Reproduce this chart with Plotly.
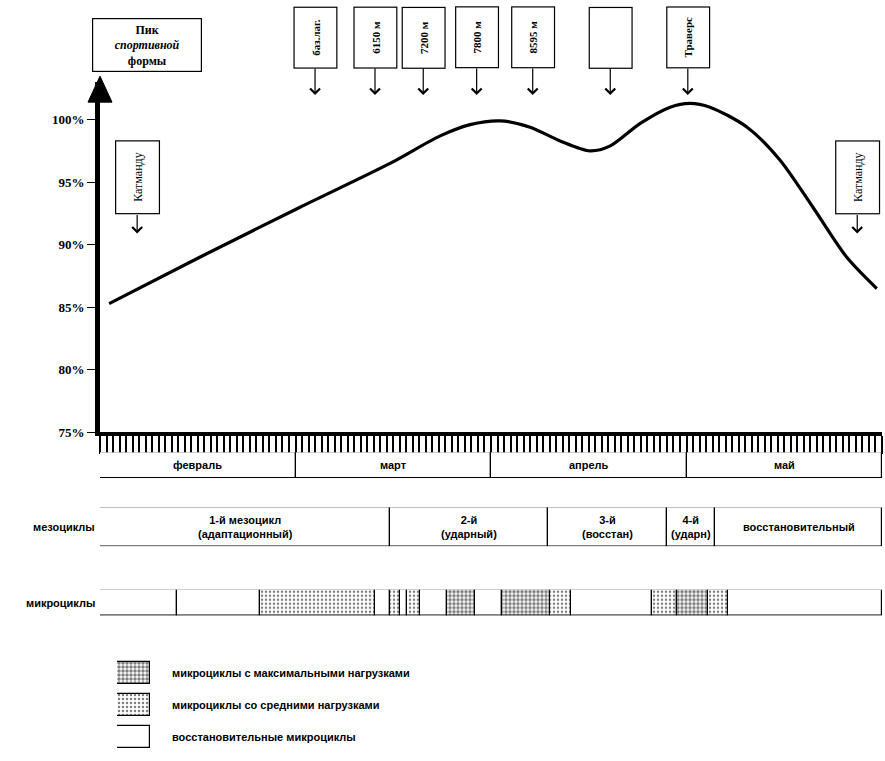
import plotly.graph_objects as go

W, H = 885, 761

# ---------------- data ----------------
# performance curve: day of the season (Feb..May, 30 units per month) vs % of peak form
curve_days = [1.4, 15.3, 30.7, 44.5, 52.2, 56.8, 61.4, 66.0, 70.6, 75.2, 78.3, 82.9,
              87.5, 90.5, 93.6, 99.3, 104.3, 109.4, 114.6, 119.2]
curve_pct = [85.3, 89.0, 93.0, 96.5, 98.7, 99.6, 99.9, 99.4, 98.3, 97.5, 97.9, 99.7,
             101.0, 101.3, 101.0, 99.4, 96.8, 93.0, 89.0, 86.5]

y_ticks = [75, 80, 85, 90, 95, 100]
y_tick_labels = ["75%", "80%", "85%", "90%", "95%", "100%"]

month_names = ["февраль", "март", "апрель", "май"]
month_bounds = [0, 30, 60, 90, 120]

meso_labels = ["1-й мезоцикл<br>(адаптационный)", "2-й<br>(ударный)", "3-й<br>(восстан)",
               "4-й<br>(ударн)", "восстановительный"]
meso_bounds = [0, 44.5, 68.7, 87.0, 94.4, 120]

micro_bounds = [0, 11.8, 24.6, 42.2, 44.5, 46.0, 47.1, 49.1, 53.2, 57.5, 61.7, 69.1,
                72.3, 84.7, 88.5, 93.3, 96.4, 120]
micro_types = ["rec", "rec", "mid", "rec", "mid", "rec", "mid", "rec", "max", "rec",
               "max", "mid", "rec", "mid", "max", "mid", "rec"]

event_labels = ["баз.лаг.", "6150 м", "7200 м", "7800 м", "8595 м", " ", "Траверс"]
event_days = [33.0, 42.2, 49.6, 57.8, 66.4, 78.3, 90.2]
city_label = "Катманду"
city_days = [5.7, 116.2]

legend_types = ["max", "mid", "rec"]
legend_labels = ["микроциклы с максимальными нагрузками",
                 "микроциклы со средними нагрузками",
                 "восстановительные микроциклы"]

# ---------------- styles ----------------
SERIF = "Liberation Serif"
SANS = "Liberation Sans"
patterns = {
    "max": dict(shape=".", fgcolor="black", bgcolor="white", size=4, solidity=0.6),
    "mid": dict(shape=".", fgcolor="black", bgcolor="white", size=4, solidity=0.3),
    "rec": dict(shape="", fgcolor="black", bgcolor="white"),
}


def dom(top_px, bottom_px):
    return [1 - bottom_px / H, 1 - top_px / H]


fig = go.Figure()

# main curve
fig.add_trace(go.Scatter(x=curve_days, y=curve_pct, mode="lines",
                         line=dict(color="black", width=3.2, shape="spline", smoothing=0.8),
                         xaxis="x", yaxis="y", hoverinfo="skip"))

box_line = dict(color="black", width=1.2)

# months row
fig.add_trace(go.Bar(orientation="h", y=[0] * len(month_names),
                     base=month_bounds[:-1],
                     x=[b - a for a, b in zip(month_bounds[:-1], month_bounds[1:])],
                     width=1, marker=dict(color="white", line=box_line),
                     xaxis="x", yaxis="y2", hoverinfo="skip"))

# mesocycles row
fig.add_trace(go.Bar(orientation="h", y=[0] * len(meso_labels),
                     base=meso_bounds[:-1],
                     x=[b - a for a, b in zip(meso_bounds[:-1], meso_bounds[1:])],
                     width=1, marker=dict(color="white", line=box_line),
                     xaxis="x", yaxis="y3", hoverinfo="skip"))

# microcycles row
for t in ["rec", "mid", "max"]:
    starts = [micro_bounds[i] for i, tt in enumerate(micro_types) if tt == t]
    lens = [micro_bounds[i + 1] - micro_bounds[i] for i, tt in enumerate(micro_types) if tt == t]
    fig.add_trace(go.Bar(orientation="h", y=[0] * len(starts), base=starts, x=lens,
                         width=1, marker=dict(color="white", line=box_line, pattern=patterns[t]),
                         xaxis="x", yaxis="y4", hoverinfo="skip"))

# legend swatches
for i, t in enumerate(legend_types):
    fig.add_trace(go.Bar(orientation="h", y=[i], base=[0], x=[1], width=0.68,
                         marker=dict(color="white", line=box_line, pattern=patterns[t]),
                         xaxis="x5", yaxis="y5", hoverinfo="skip"))

ann = []
lbl_font = dict(family=SANS, size=11, color="black", weight="bold")
C = dict(xanchor="center", yanchor="middle")

for name, a, b in zip(month_names, month_bounds[:-1], month_bounds[1:]):
    ann.append(dict(x=(a + b) / 2, y=0, xref="x", yref="y2", text=name, showarrow=False,
                    font=lbl_font, **C))
for name, a, b in zip(meso_labels, meso_bounds[:-1], meso_bounds[1:]):
    ann.append(dict(x=(a + b) / 2, y=0, xref="x", yref="y3", text=name, showarrow=False,
                    font=lbl_font, **C))
ann.append(dict(x=97 / W, y=0, xref="paper", yref="y3", xanchor="right", yanchor="middle",
                text="мезоциклы", showarrow=False, font=lbl_font))
ann.append(dict(x=97 / W, y=0, xref="paper", yref="y4", xanchor="right", yanchor="middle",
                text="микроциклы", showarrow=False, font=lbl_font))
for i, name in enumerate(legend_labels):
    ann.append(dict(x=170 / W, y=i, xref="paper", yref="y5", xanchor="left", yanchor="middle",
                    text=name, showarrow=False, font=lbl_font))

# event boxes at the top
ev_font = dict(family=SERIF, size=11, color="black", weight="bold")
for name, d in zip(event_labels, event_days):
    ann.append(dict(x=d, y=1 - 38 / H, xref="x", yref="paper", text=name, textangle=-90,
                    showarrow=False, width=58, height=40, bordercolor="black", borderwidth=1.2,
                    borderpad=1, bgcolor="white", font=ev_font, **C))
    ann.append(dict(x=d, y=1 - 96 / H, xref="x", yref="paper", text="", showarrow=True,
                    ax=0, ay=-28, arrowhead=4, arrowsize=1.6, arrowwidth=1.2,
                    arrowcolor="black"))

city_font = dict(family=SERIF, size=12, color="black")
for d in city_days:
    ann.append(dict(x=d, y=1 - 179 / H, xref="x", yref="paper", text=city_label,
                    textangle=-90, showarrow=False, width=70, height=41,
                    bordercolor="black", borderwidth=1.2, borderpad=1, bgcolor="white",
                    font=city_font, **C))
    ann.append(dict(x=d, y=1 - 236 / H, xref="x", yref="paper", text="", showarrow=True,
                    ax=0, ay=-20, arrowhead=4, arrowsize=1.6, arrowwidth=1.2,
                    arrowcolor="black"))

# peak form box
ann.append(dict(x=147 / W, y=1 - 45 / H, xref="paper", yref="paper",
                text="<b>Пик</b><br><b><i>спортивной</i></b><br><b>формы</b>",
                showarrow=False, width=106, height=50, bordercolor="black", borderwidth=1.2,
                borderpad=1, bgcolor="white",
                font=dict(family=SERIF, size=12, color="black"), **C))

# arrow head on top of the y axis
shapes = [dict(type="path", xref="paper", yref="paper", xsizemode="pixel", ysizemode="pixel",
               xanchor=100 / W, yanchor=1 - 83 / H, path="M -12,-20 L 12,-20 L 0,6 Z",
               fillcolor="black", line=dict(color="black", width=1))]

fig.update_layout(
    width=W, height=H, margin=dict(l=0, r=0, t=0, b=0),
    paper_bgcolor="white", plot_bgcolor="white",
    showlegend=False, barmode="overlay", bargap=0,
    annotations=ann, shapes=shapes,
    xaxis=dict(domain=[100 / W, 882 / W], range=[0, 120], anchor="y",
               showline=True, linewidth=4, linecolor="black",
               ticks="outside", tick0=0, dtick=1, ticklen=18, tickwidth=1.5,
               tickcolor="black", showticklabels=False, showgrid=False, zeroline=False),
    yaxis=dict(domain=dom(83, 437), range=[75, 103], anchor="x",
               showline=True, linewidth=5, linecolor="black",
               tickvals=y_ticks, ticktext=y_tick_labels, ticks="outside", ticklen=8,
               tickwidth=1.2, tickcolor="black", showgrid=False, zeroline=False,
               tickfont=dict(family=SERIF, size=13, color="black", weight="bold")),
    yaxis2=dict(domain=dom(457, 483), range=[-0.5, 0.5], anchor="free", position=0,
                visible=False),
    yaxis3=dict(domain=dom(513, 552), range=[-0.5, 0.5], anchor="free", position=0,
                visible=False),
    yaxis4=dict(domain=dom(596, 622), range=[-0.5, 0.5], anchor="free", position=0,
                visible=False),
    xaxis5=dict(domain=[117 / W, 150 / W], range=[0, 1], anchor="y5", visible=False),
    yaxis5=dict(domain=dom(664, 761), range=[2.5, -0.5], anchor="x5", visible=False),
)

fig.write_html("out.html", config={"displayModeBar": False},
               post_script="document.body.style.margin='0px';"
                           "document.body.style.overflow='hidden';")
